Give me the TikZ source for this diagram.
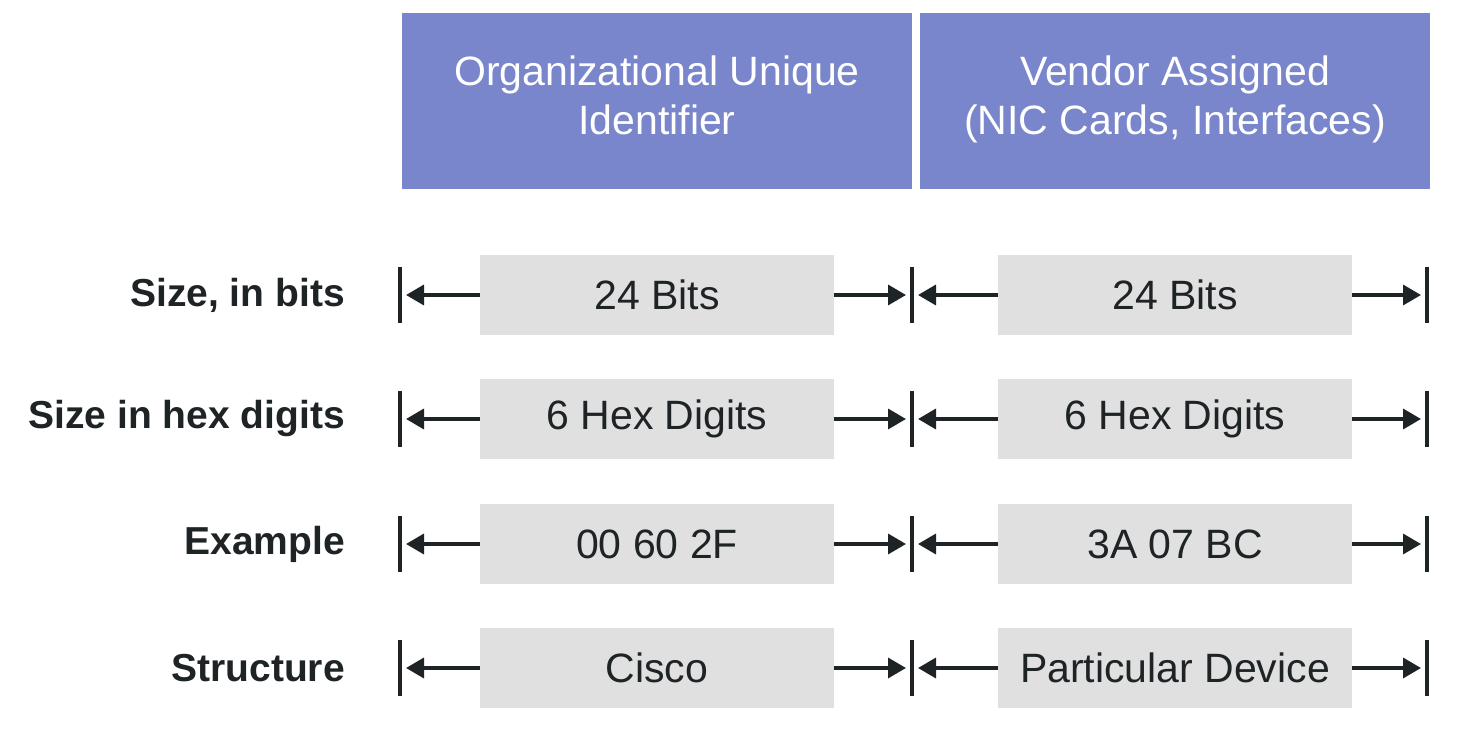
\documentclass[tikz,border=0pt]{standalone}
\usepackage{fontspec}
\setmainfont{Liberation Sans}
\usetikzlibrary{arrows.meta}
\definecolor{hdr}{HTML}{7986CB}
\definecolor{cell}{HTML}{E0E0E0}
\definecolor{ink}{HTML}{1E2326}
\begin{document}
\begin{tikzpicture}[x=1pt,y=-1pt,
 hdrbox/.style={fill=hdr, minimum width=510pt, minimum height=176pt, align=center, text=white, font=\fontsize{41}{49}\selectfont, inner sep=0pt, text depth=12pt},
 cellbox/.style={fill=cell, minimum width=354pt, minimum height=80pt, inner sep=0pt, font=\fontsize{41}{46}\selectfont, text=ink},
 rowlab/.style={anchor=east, font=\bfseries\fontsize{39}{44}\selectfont, text=ink, inner sep=0pt},
 bar/.style={line width=3.5pt, draw=ink},
 arr/.style={line width=3.5pt, draw=ink, shorten >=6pt, -{Triangle[length=18pt,width=20pt]}}
]
\useasboundingbox (0,0) rectangle (1469,735);
\node[hdrbox] (oui) at (657,101) {Organizational Unique\\Identifier};
\node[hdrbox] (vendor) at (1175,101) {Vendor Assigned\\(NIC Cards, Interfaces)};
\foreach \i/\yy/\lab/\lt/\rt in {1/295/{Size, in bits}/24 Bits/24 Bits, 2/419/Size in hex digits/6 Hex Digits/6 Hex Digits, 3/544/Example/00 60 2F/3A 07 BC, 4/668/Structure/Cisco/Particular Device}{
  \node[rowlab] (lab\i) at (345,\yy) {\lab};
  \node[cellbox] (l\i) at (657,\yy) {\lt};
  \node[cellbox] (r\i) at (1175,\yy) {\rt};
  \coordinate (ba\i) at (400,\yy);
  \coordinate (bb\i) at (912,\yy);
  \coordinate (bc\i) at (1427,\yy);
  \foreach \b in {ba\i,bb\i,bc\i}{
    \draw[bar] ([yshift=-28pt]\b) -- ([yshift=28pt]\b);
  }
  \draw[arr] (l\i.west) -- (ba\i);
  \draw[arr] (l\i.east) -- (bb\i);
  \draw[arr] (r\i.west) -- (bb\i);
  \draw[arr] (r\i.east) -- (bc\i);
}
\end{tikzpicture}
\end{document}
